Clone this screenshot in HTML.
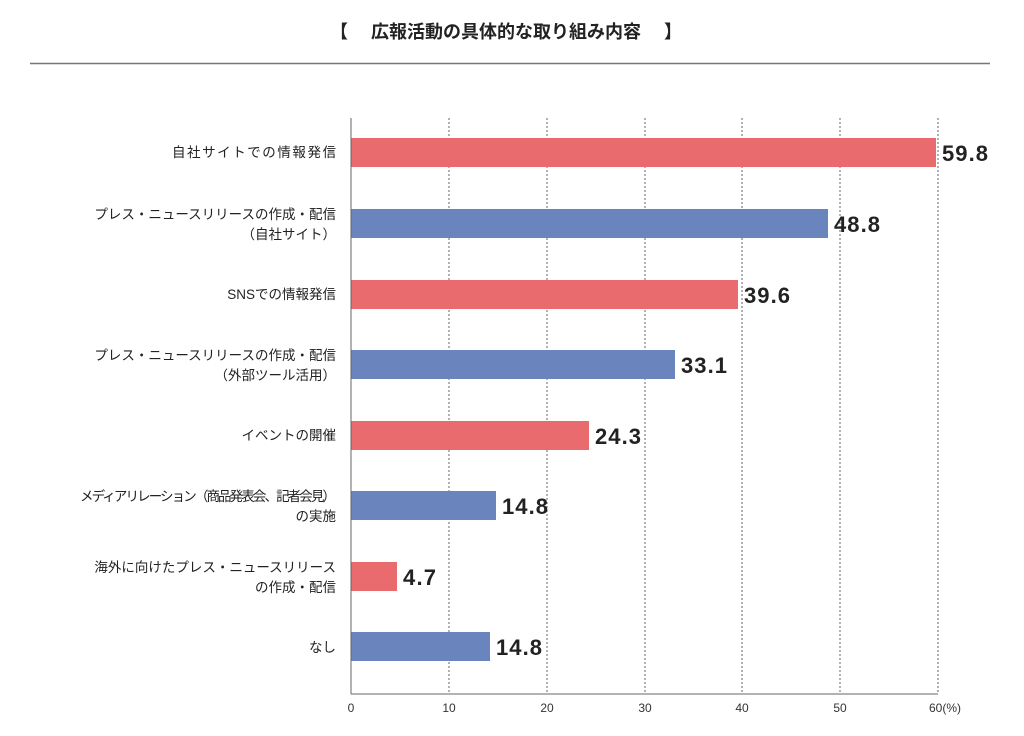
<!DOCTYPE html><html><head><meta charset="utf-8"><style>body{margin:0;background:#fff}svg{display:block}</style></head><body>
<svg width="1024" height="736" xmlns="http://www.w3.org/2000/svg" font-family="Liberation Sans, Noto Sans CJK JP, sans-serif">
<text x="506" y="38" text-anchor="middle" font-size="18" font-weight="bold" fill="#222" xml:space="preserve">【　 広報活動の具体的な取り組み内容　 】</text>
<line x1="30" y1="63.5" x2="990" y2="63.5" stroke="#777" stroke-width="1.5"/>
<g stroke="#666" stroke-width="1" stroke-dasharray="2,2">
<line x1="449" y1="118" x2="449" y2="694"/><line x1="547" y1="118" x2="547" y2="694"/><line x1="645" y1="118" x2="645" y2="694"/><line x1="742" y1="118" x2="742" y2="694"/><line x1="840" y1="118" x2="840" y2="694"/><line x1="938" y1="118" x2="938" y2="694"/>
</g>
<g font-size="12" fill="#333" text-anchor="middle">
<text x="351" y="712">0</text><text x="449" y="712">10</text><text x="547" y="712">20</text><text x="645" y="712">30</text><text x="742" y="712">40</text><text x="840" y="712">50</text><text x="945" y="712">60(%)</text>
</g>
<g>
<rect x="351" y="138" width="585" height="29" fill="#e96b6e"/>
<rect x="351" y="209" width="477" height="29" fill="#6a84bd"/>
<rect x="351" y="280" width="387" height="29" fill="#e96b6e"/>
<rect x="351" y="350" width="324" height="29" fill="#6a84bd"/>
<rect x="351" y="421" width="238" height="29" fill="#e96b6e"/>
<rect x="351" y="491" width="145" height="29" fill="#6a84bd"/>
<rect x="351" y="562" width="46" height="29" fill="#e96b6e"/>
<rect x="351" y="632" width="139" height="29" fill="#6a84bd"/>
</g>
<line x1="351" y1="118" x2="351" y2="694" stroke="#666"/>
<line x1="351" y1="694" x2="938" y2="694" stroke="#666"/>
<g font-size="22" font-weight="bold" fill="#222">
<text x="942" y="161" textLength="46">59.8</text><text x="834" y="232" textLength="46">48.8</text><text x="744" y="303" textLength="46">39.6</text><text x="681" y="373" textLength="46">33.1</text><text x="595" y="444" textLength="46">24.3</text><text x="502" y="514" textLength="46">14.8</text><text x="403" y="585" textLength="33">4.7</text><text x="496" y="655" textLength="46">14.8</text>
</g>
<g font-size="13.5" fill="#222" text-anchor="end">
<text x="336" y="157" textLength="164">自社サイトでの情報発信</text>
<text x="336" y="219">プレス・ニュースリリースの作成・配信</text><text x="336" y="239">（自社サイト）</text>
<text x="336" y="299">SNSでの情報発信</text>
<text x="336" y="360">プレス・ニュースリリースの作成・配信</text><text x="336" y="380">（外部ツール活用）</text>
<text x="336" y="440">イベントの開催</text>
<text x="336" y="501" textLength="256">メディアリレーション（商品発表会、記者会見）</text><text x="336" y="521">の実施</text>
<text x="336" y="572">海外に向けたプレス・ニュースリリース</text><text x="336" y="592">の作成・配信</text>
<text x="336" y="652">なし</text>
</g>
</svg></body></html>
